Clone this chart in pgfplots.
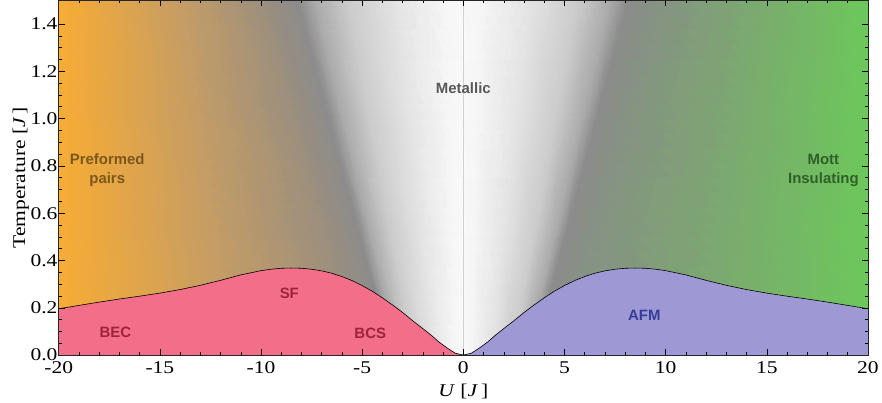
\documentclass[border=0pt]{standalone}
\usepackage{pgfplots}
\pgfplotsset{compat=1.18}
\usepackage{fontspec}
\setmainfont{Liberation Serif}[FakeStretch=1.2]
\newfontfamily\lab{Liberation Sans}[BoldFont={Liberation Sans Bold}]

\definecolor{sfpink}{RGB}{243,110,136}
\definecolor{afmblue}{RGB}{158,153,212}
\definecolor{txtred}{RGB}{160,35,62}
\definecolor{txtblue}{RGB}{55,60,150}
\definecolor{txtbrown}{RGB}{122,88,28}
\definecolor{txtgreen}{RGB}{48,96,40}
\definecolor{txtgray}{RGB}{88,88,88}

% boundary T_c(U), symmetric in U
\pgfplotstableread{
U T
-20 0.196
-19 0.21
-18 0.224
-17 0.237
-16 0.249
-15 0.262
-14 0.277
-13 0.295
-12 0.316
-11 0.339
-10 0.357
-9.5 0.363
-9 0.367
-8.5 0.368
-8 0.367
-7.5 0.363
-7 0.356
-6.5 0.346
-6 0.332
-5.5 0.315
-5 0.294
-4.5 0.27
-4 0.242
-3.5 0.212
-3 0.18
-2.5 0.145
-2 0.112
-1.6 0.085
-1.2 0.055
-0.8 0.03
-0.4 0.008
0 0
}\leftcurve
\pgfplotstableread{
U T
0 0
0.4 0.008
0.8 0.03
1.2 0.055
1.6 0.085
2 0.112
2.5 0.145
3 0.18
3.5 0.212
4 0.242
4.5 0.27
5 0.294
5.5 0.315
6 0.332
6.5 0.346
7 0.356
7.5 0.363
8 0.367
8.5 0.368
9 0.367
9.5 0.363
10 0.357
11 0.339
12 0.316
13 0.295
14 0.277
15 0.262
16 0.249
17 0.237
18 0.224
19 0.21
20 0.196
}\rightcurve

\begin{document}
\begin{tikzpicture}
\begin{axis}[
  width=812pt, height=356pt, scale only axis,
  xmin=-20, xmax=20, ymin=0, ymax=1.5,
  xtick={-20,-15,...,20},
  xticklabels={-20,-15,-10,-5,0,5,10,15,20},
  ytick={0,0.2,0.4,0.6,0.8,1.0,1.2,1.4},
  yticklabels={0.0,0.2,0.4,0.6,0.8,1.0,1.2,1.4},
  minor x tick num=4, minor y tick num=3,
  tick align=inside,
  major tick length=6pt, minor tick length=3pt,
  every tick/.style={black, line width=0.5pt},
  axis line style={black!85, line width=0.6pt},
  axis on top,
  xticklabel style={font=\fontsize{18}{18}\selectfont, inner ysep=6pt},
  yticklabel style={font=\fontsize{18}{18}\selectfont, inner xsep=1pt},
  xlabel={\textit{U} [\textit{J}\,]},
  ylabel={\rule{0pt}{22pt}Temperature [\textit{J}\,]},
  label style={font=\fontsize{18}{18}\selectfont},
  xlabel style={yshift=-1pt},
  ylabel style={yshift=-3pt},
]
% background shading
\addplot[patch, patch type=rectangle, mesh input=lattice, mesh/cols=17, mesh/rows=4,
  shader=interp, mesh/color input=explicit] table[x=x, y=y, meta=c] {
x y c
-20 0 rgb255=248,172,52
-11.75 0 rgb255=198,157,100
-4.9 0 rgb255=152,142,128
-3.5 0 rgb255=140,140,140
-3.15 0 rgb255=170,170,170
-2.45 0 rgb255=203,203,203
-1.4 0 rgb255=228,228,228
-0.35 0 rgb255=246,246,246
0 0 rgb255=249,249,249
0.35 0 rgb255=246,246,246
1.4 0 rgb255=228,228,228
2.45 0 rgb255=203,203,203
3.15 0 rgb255=170,170,170
3.5 0 rgb255=140,140,140
4.9 0 rgb255=134,146,131
11.75 0 rgb255=124,168,113
20 0 rgb255=108,200,90
-20 0.5 rgb255=248,172,52
-12.525 0.5 rgb255=198,157,100
-6.45 0.5 rgb255=152,142,128
-5.05 0.5 rgb255=140,140,140
-4.545 0.5 rgb255=170,170,170
-3.535 0.5 rgb255=203,203,203
-2.02 0.5 rgb255=228,228,228
-0.505 0.5 rgb255=246,246,246
0 0.5 rgb255=249,249,249
0.505 0.5 rgb255=246,246,246
2.02 0.5 rgb255=228,228,228
3.535 0.5 rgb255=203,203,203
4.545 0.5 rgb255=170,170,170
5.05 0.5 rgb255=140,140,140
6.45 0.5 rgb255=134,146,131
12.525 0.5 rgb255=124,168,113
20 0.5 rgb255=108,200,90
-20 1.0 rgb255=248,172,52
-13.3 1.0 rgb255=198,157,100
-8.0 1.0 rgb255=152,142,128
-6.6 1.0 rgb255=140,140,140
-5.94 1.0 rgb255=170,170,170
-4.62 1.0 rgb255=203,203,203
-2.64 1.0 rgb255=228,228,228
-0.66 1.0 rgb255=246,246,246
0 1.0 rgb255=249,249,249
0.66 1.0 rgb255=246,246,246
2.64 1.0 rgb255=228,228,228
4.62 1.0 rgb255=203,203,203
5.94 1.0 rgb255=170,170,170
6.6 1.0 rgb255=140,140,140
8.0 1.0 rgb255=134,146,131
13.3 1.0 rgb255=124,168,113
20 1.0 rgb255=108,200,90
-20 1.5 rgb255=248,172,52
-14.075 1.5 rgb255=198,157,100
-9.55 1.5 rgb255=152,142,128
-8.15 1.5 rgb255=140,140,140
-7.335 1.5 rgb255=170,170,170
-5.705 1.5 rgb255=203,203,203
-3.26 1.5 rgb255=228,228,228
-0.815 1.5 rgb255=246,246,246
0 1.5 rgb255=249,249,249
0.815 1.5 rgb255=246,246,246
3.26 1.5 rgb255=228,228,228
5.705 1.5 rgb255=203,203,203
7.335 1.5 rgb255=170,170,170
8.15 1.5 rgb255=140,140,140
9.55 1.5 rgb255=134,146,131
14.075 1.5 rgb255=124,168,113
20 1.5 rgb255=108,200,90
};
\addplot[gray!35, line width=0.4pt] coordinates {(0,0) (0,1.5)};
\addplot[fill=sfpink, draw=none] table[x=U, y=T] {\leftcurve} \closedcycle;
\addplot[fill=afmblue, draw=none] table[x=U, y=T] {\rightcurve} \closedcycle;
\addplot[black, line width=0.6pt] table[x=U, y=T] {\leftcurve};
\addplot[black, line width=0.6pt] table[x=U, y=T] {\rightcurve};

\begin{scope}[every node/.style={font=\lab\bfseries\fontsize{15}{19}\selectfont, align=center}]
\node[text=txtgray] at (axis cs:0,1.13) {Metallic};
\node[text=txtbrown] at (axis cs:-17.6,0.78) {Preformed\\pairs};
\node[text=txtgreen] at (axis cs:17.8,0.78) {Mott\\Insulating};
\node[text=txtred] at (axis cs:-8.6,0.26) {SF};
\node[text=txtred] at (axis cs:-17.2,0.097) {BEC};
\node[text=txtred] at (axis cs:-4.6,0.093) {BCS};
\node[text=txtblue] at (axis cs:8.95,0.17) {AFM};
\end{scope}
\end{axis}
\end{tikzpicture}
\end{document}
